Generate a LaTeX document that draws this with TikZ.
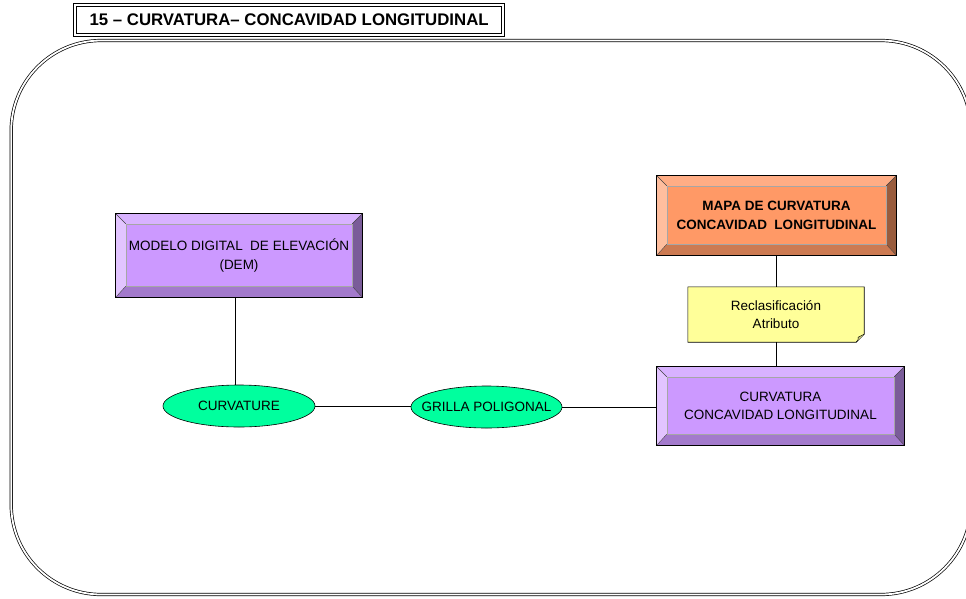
\documentclass[tikz,border=0pt]{standalone}
\usepackage{fontspec}
\setmainfont{Liberation Sans}
\usetikzlibrary{calc,shapes.geometric}

% colour schemes for the bevelled boxes
\definecolor{lilacface}{RGB}{204,153,255}
\definecolor{lilactop}{RGB}{216,178,255}
\definecolor{lilacleft}{RGB}{226,196,255}
\definecolor{lilacright}{RGB}{122,92,153}
\definecolor{lilacbottom}{RGB}{163,122,204}
\definecolor{salmonface}{RGB}{255,153,102}
\definecolor{salmontop}{RGB}{255,173,133}
\definecolor{salmonleft}{RGB}{255,190,158}
\definecolor{salmonright}{RGB}{153,92,61}
\definecolor{salmonbottom}{RGB}{204,122,82}
\definecolor{notefill}{RGB}{255,255,153}
\definecolor{notefold}{RGB}{204,204,122}
\definecolor{ovalfill}{RGB}{0,255,158}

\tikzset{
  txt/.style={font=\fontsize{13.5}{18.5}\selectfont, align=center},
  boldtxt/.style={font=\bfseries\fontsize{13.5}{19}\selectfont, align=center},
  bevelbox/.style={rectangle, inner sep=0pt},
  notebox/.style={rectangle, inner sep=0pt},
  oval/.style={ellipse, draw, line width=0.6pt, fill=ovalfill, inner sep=0pt},
  link/.style={line width=0.6pt},
}

% draws the raised frame around a bevelled node: #1 node, #2 colour scheme
\newcommand\bevelframe[2]{%
  \coordinate (#1-NW) at (#1.north west);
  \coordinate (#1-NE) at (#1.north east);
  \coordinate (#1-SE) at (#1.south east);
  \coordinate (#1-SW) at (#1.south west);
  \coordinate (#1-iNW) at ($(#1.north west)+(10,10)$);
  \coordinate (#1-iNE) at ($(#1.north east)+(-10,10)$);
  \coordinate (#1-iSE) at ($(#1.south east)+(-10,-11)$);
  \coordinate (#1-iSW) at ($(#1.south west)+(10,-11)$);
  \fill[#2top] (#1-NW) -- (#1-NE) -- (#1-iNE) -- (#1-iNW) -- cycle;
  \fill[#2right] (#1-NE) -- (#1-SE) -- (#1-iSE) -- (#1-iNE) -- cycle;
  \fill[#2bottom] (#1-SE) -- (#1-SW) -- (#1-iSW) -- (#1-iSE) -- cycle;
  \fill[#2left] (#1-SW) -- (#1-NW) -- (#1-iNW) -- (#1-iSW) -- cycle;
  \draw[line width=0.4pt, black!75] (#1-NW) -- (#1-iNW) (#1-NE) -- (#1-iNE)
       (#1-SE) -- (#1-iSE) (#1-SW) -- (#1-iSW);
  \draw[line width=0.3pt, black!35] (#1-iNW) rectangle (#1-iSE);
  \draw[line width=0.7pt] (#1-NW) rectangle (#1-SE);
}

\begin{document}
\begin{tikzpicture}[x=1pt, y=-1pt]
\useasboundingbox (0,0) rectangle (966,598);

% outer frame, running past the right edge
\begin{scope}
  \clip (0,0) rectangle (966,598);
  \draw[line width=0.7pt, double, double distance=1.8pt, rounded corners=90pt]
    (11.2,40.5) rectangle (971,594.5);
\end{scope}

% heading
\node[draw, line width=0.7pt, double, double distance=2.2pt,
      minimum width=428, minimum height=30, inner sep=0pt, anchor=north west]
  (title) at (74.5,4.5) {};
\node[font=\bfseries\fontsize{16.8}{18}\selectfont, anchor=west]
  (titletext) at (86,20) {15 -- CURVATURA-- CONCAVIDAD LONGITUDINAL};

% bevelled boxes
\node[bevelbox, fill=lilacface, minimum width=246, minimum height=83] (dem) at (239,255.5) {};
\bevelframe{dem}{lilac}
\node[txt] (demtext) at (dem) {MODELO DIGITAL\ \ DE ELEVACIÓN\\(DEM)};

\node[bevelbox, fill=salmonface, minimum width=239, minimum height=79] (mapa) at (776.5,215.5) {};
\bevelframe{mapa}{salmon}
\node[boldtxt] (mapatext) at (mapa)
  {MAPA DE CURVATURA\\CONCAVIDAD\ \ LONGITUDINAL};

\node[bevelbox, fill=lilacface, minimum width=247, minimum height=78] (curv) at (780.5,406) {};
\bevelframe{curv}{lilac}
\node[txt] (curvtext) at (curv) {CURVATURA\\CONCAVIDAD LONGITUDINAL};

% note with folded corner
\node[notebox, minimum width=176, minimum height=55] (note) at (776,314.5) {};
\draw[line width=0.6pt, fill=notefill]
  (note.north west) -- (note.north east) -- ($(note.south east)+(0,-8)$)
  -- ($(note.south east)+(-8,0)$) -- (note.south west) -- cycle;
\draw[line width=0.5pt, fill=notefold]
  ($(note.south east)+(0,-8)$) .. controls ($(note.south east)+(-4,-6)$) .. ($(note.south east)+(-6,-5)$)
  .. controls ($(note.south east)+(-6,-2)$) .. ($(note.south east)+(-8,0)$);
\node[txt] (notetext) at (note) {Reclasificación\\Atributo};

% ovals
\node[oval, minimum width=152, minimum height=42] (curvature) at (239,406) {};
\node[txt] (curvaturetext) at (curvature) {CURVATURE};
\node[oval, minimum width=151, minimum height=42] (grilla) at (486.5,407) {};
\node[txt] (grillatext) at (grilla) {GRILLA POLIGONAL};

% connectors
\draw[link] ([xshift=-4]dem.south) -- ([xshift=-4]curvature.north);
\draw[link] (curvature.east) -- (curvature.east -| grilla.west);
\draw[link] (grilla.east) -- (grilla.east -| curv.west);
\draw[link] (mapa.south -| note.north) -- (note.north);
\draw[link] (note.south) -- (note.south |- curv.north);
\end{tikzpicture}
\end{document}
